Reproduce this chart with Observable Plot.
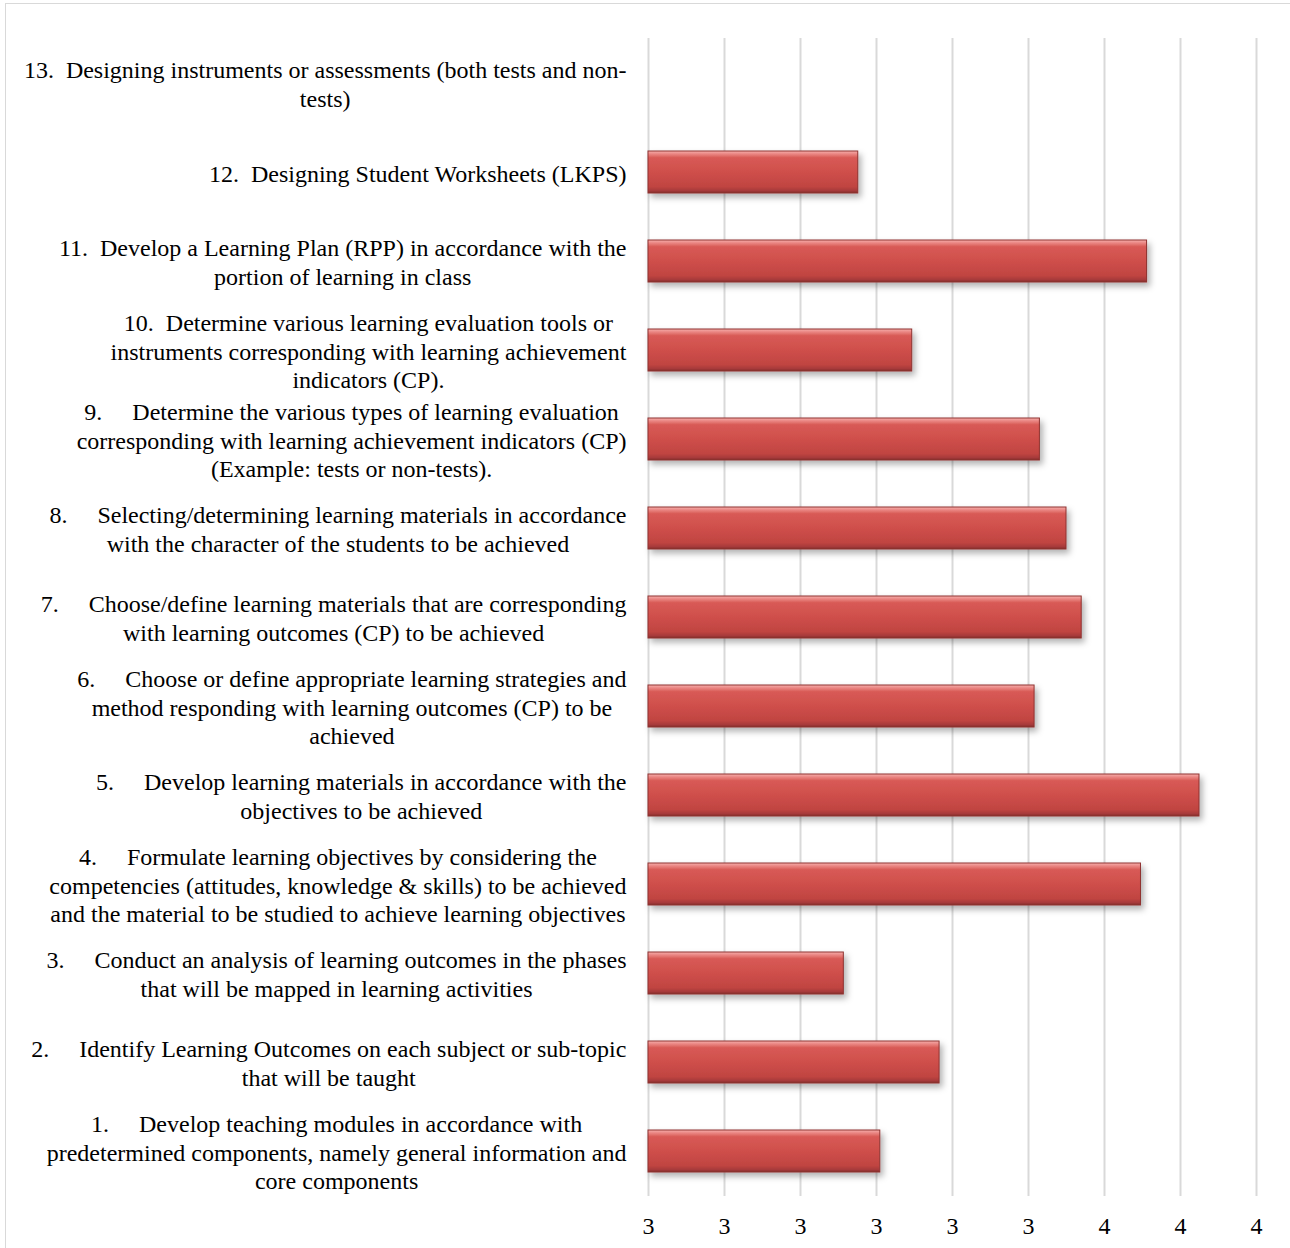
<!DOCTYPE html>
<html>
<head>
<meta charset="utf-8">
<script src="https://cdn.jsdelivr.net/npm/d3@7"></script>
<script src="https://cdn.jsdelivr.net/npm/@observablehq/plot@0.6"></script>
<style>
  html, body { margin: 0; padding: 0; background: #fff; }
  #frame { position: absolute; left: 5px; top: 3px; width: 1290px; height: 1260px; border: 1px solid #d9d9d9; box-sizing: border-box; }
  #chart { position: absolute; left: 0; top: 0; }
  svg text { white-space: pre; }
</style>
</head>
<body>
<div id="frame"></div>
<div id="chart"></div>
<script>
// Categories, in order 1..13
const categories = [
  "1.     Develop teaching modules in accordance with\npredetermined components, namely general information and\ncore components",
  "2.     Identify Learning Outcomes on each subject or sub-topic\nthat will be taught",
  "3.     Conduct an analysis of learning outcomes in the phases\nthat will be mapped in learning activities",
  "4.     Formulate learning objectives by considering the\ncompetencies (attitudes, knowledge & skills) to be achieved\nand the material to be studied to achieve learning objectives",
  "5.     Develop learning materials in accordance with the\nobjectives to be achieved",
  "6.     Choose or define appropriate learning strategies and\nmethod responding with learning outcomes (CP) to be\nachieved",
  "7.     Choose/define learning materials that are corresponding\nwith learning outcomes (CP) to be achieved",
  "8.     Selecting/determining learning materials in accordance\nwith the character of the students to be achieved",
  "9.     Determine the various types of learning evaluation\ncorresponding with learning achievement indicators (CP)\n(Example: tests or non-tests).",
  "10.  Determine various learning evaluation tools or\ninstruments corresponding with learning achievement\nindicators (CP).",
  "11.  Develop a Learning Plan (RPP) in accordance with the\nportion of learning in class",
  "12.  Designing Student Worksheets (LKPS)",
  "13.  Designing instruments or assessments (both tests and non-\ntests)"
];
// Mean scores; item 13 shows no bar
const values = [3.205, 3.283, 3.157, 3.548, 3.625, 3.408, 3.470, 3.450, 3.415, 3.247, 3.556, 3.176, null];
// Axis tick values
const xTicks = [2.9, 3.0, 3.1, 3.2, 3.3, 3.4, 3.5, 3.6, 3.7];
const xMin = 2.9, xMax = 3.7;

const data = categories.map((c, i) => ({category: c, value: values[i]})).filter(d => d.value != null);

const chart = Plot.plot({
  width: 1290,
  height: 1248,
  marginLeft: 648,
  marginRight: 34,
  marginTop: 38,
  marginBottom: 52,
  style: {fontFamily: "'Liberation Serif', 'Times New Roman', serif", fontSize: "24px", color: "#000", background: "transparent"},
  x: {domain: [xMin, xMax], ticks: xTicks},
  y: {domain: categories.slice().reverse(), paddingInner: 0.53, paddingOuter: 0.265},
  marks: [
    Plot.gridX(xTicks, {stroke: "#d9d9d9", strokeOpacity: 1, strokeWidth: 2}),
    Plot.barX(data, {
      x1: () => xMin, x2: "value", y: "category",
      fill: "url(#barGrad)", stroke: "#8f3230", strokeWidth: 1
    }),
    Plot.axisX({ticks: xTicks, tickSize: 0, tickPadding: 20, tickFormat: d3.format(".0f"), fontSize: 24, fill: "#000", label: null}),
    Plot.axisY({tickSize: 0, tickPadding: 22, fontSize: 24, lineHeight: 1.17, fill: "#000", label: null})
  ]
});
document.getElementById("chart").appendChild(chart);

// gradient + shadow definitions for the bars
const svg = d3.select(chart);
const defs = svg.insert("defs", ":first-child");
const g = defs.append("linearGradient").attr("id", "barGrad").attr("x1", 0).attr("y1", 0).attr("x2", 0).attr("y2", 1);
[["0%", "#f6b0ad"], ["7%", "#ea8683"], ["16%", "#d85a56"], ["50%", "#cf4f4b"], ["85%", "#c04441"], ["95%", "#a5393a"], ["100%", "#7f2b29"]]
  .forEach(([o, c]) => g.append("stop").attr("offset", o).attr("stop-color", c));
const f = defs.append("filter").attr("id", "shadow").attr("x", "-5%").attr("y", "-20%").attr("width", "115%").attr("height", "160%");
f.append("feDropShadow").attr("dx", 3).attr("dy", 4).attr("stdDeviation", 3).attr("flood-color", "#000").attr("flood-opacity", 0.3);
svg.selectAll("g[aria-label='bar'] rect").attr("filter", "url(#shadow)");

// center wrapped lines inside a right-aligned label box (like the original)
svg.selectAll("g[aria-label='y-axis tick label'] text").each(function() {
  const w = this.getBBox().width;
  this.setAttribute("text-anchor", "middle");
  const tspans = this.querySelectorAll("tspan");
  if (tspans.length) tspans.forEach(t => t.setAttribute("x", -w / 2));
  else this.setAttribute("x", -w / 2 + (+this.getAttribute("x") || 0));
});
</script>
</body>
</html>
